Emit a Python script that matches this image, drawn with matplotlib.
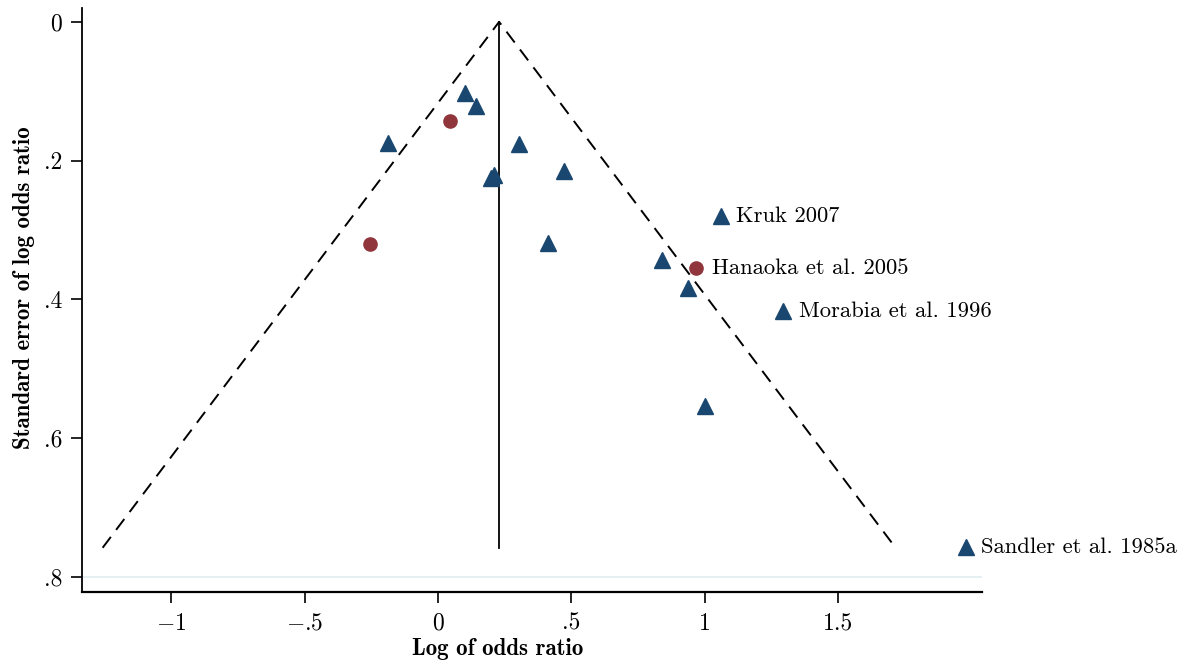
import matplotlib
matplotlib.use("Agg")
import matplotlib.pyplot as plt

plt.rcParams['mathtext.fontset'] = 'cm'
plt.rcParams['font.family'] = ['cmr10', 'DejaVu Serif']
plt.rcParams['axes.unicode_minus'] = False

# studies shown as triangles (log OR, SE)
tri_x = [0.101, 0.143, -0.188, 0.302, 0.210, 0.199, 0.473, 0.413, 0.840, 0.938, 1.061, 1.294, 1.001, 1.977]
tri_se = [0.102, 0.121, 0.174, 0.176, 0.221, 0.225, 0.215, 0.319, 0.343, 0.383, 0.280, 0.417, 0.553, 0.757]
# studies shown as circles
circ_x = [0.045, -0.255, 0.968]
circ_se = [0.143, 0.320, 0.355]

# labelled studies
lab_names = ['Kruk 2007', 'Hanaoka et al. 2005', 'Morabia et al. 1996', 'Sandler et al. 1985a']
lab_x = [1.061, 0.968, 1.294, 1.977]
lab_se = [0.280, 0.355, 0.417, 0.757]

pooled = 0.229
se_max = 0.758

xticks = [-1, -0.5, 0, 0.5, 1, 1.5]
xtick_labels = [r'$-$1', r'$-$.5', '0', '.5', '1', '1.5']
yticks = [0, 0.2, 0.4, 0.6, 0.8]
ytick_labels = ['0', '.2', '.4', '.6', '.8']

blue = '#1a476f'
red = '#90353b'

fig = plt.figure(figsize=(11.85, 6.65), dpi=100)
ax = fig.add_axes([0.069, 0.110, 0.760, 0.878])

ax.axhline(0.8, color='#e6eff2', lw=1.5, zorder=0)

# funnel
ax.plot([pooled - 1.96 * se_max, pooled, pooled + 1.96 * se_max], [se_max, 0, se_max],
        color='black', lw=1.4, dashes=(7, 4.5))
ax.plot([pooled, pooled], [0, se_max], color='black', lw=1.3)

ax.plot(tri_x, tri_se, '^', color=blue, markersize=11.5, ls='none', clip_on=False)
ax.plot(circ_x, circ_se, 'o', color=red, markersize=9.5, ls='none', clip_on=False)

for name, x, y in zip(lab_names, lab_x, lab_se):
    ax.annotate(name, (x, y), xytext=(11, 0), textcoords='offset points',
                ha='left', va='center', fontsize=16.3, annotation_clip=False)

ax.set_xlim(-1.335, 2.04)
ax.set_ylim(0.8216, -0.020)

ax.set_xticks(xticks)
ax.set_xticklabels(xtick_labels, fontsize=17)
ax.set_yticks(yticks)
ax.set_yticklabels(ytick_labels, fontsize=17)
ax.tick_params(axis='both', direction='out', length=8, width=1.2)
ax.tick_params(axis='x', pad=7)
ax.tick_params(axis='y', pad=6)

for s in ['top', 'right']:
    ax.spines[s].set_visible(False)
ax.spines['left'].set_linewidth(1.3)
ax.spines['bottom'].set_linewidth(1.6)

fig.text(0.420, 0.024, 'Log of odds ratio', ha='center', va='center',
         fontsize=16.5, family=['cmb10', 'DejaVu Serif'])
fig.text(0.020, 0.568, 'Standard error of log odds ratio', ha='center', va='center',
         rotation=90, fontsize=16.5, family=['cmb10', 'DejaVu Serif'])

fig.savefig('out.png', dpi=100)
